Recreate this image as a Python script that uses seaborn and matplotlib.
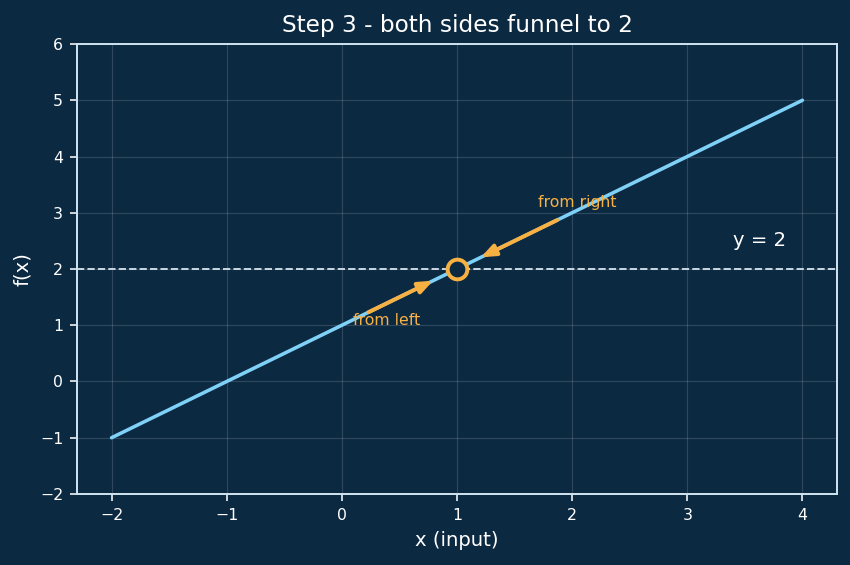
import matplotlib
matplotlib.use("Agg")
import matplotlib.pyplot as plt
import seaborn as sns
import pandas as pd

# data
x_vals = [-2, -1, 0, 1, 2, 3, 4]
y_vals = [-1, 0, 1, 2, 3, 4, 5]
limit_x = 1
limit_y = 2
left_arrow = [(0.2, 1.2), (0.8, 1.8)]
right_arrow = [(1.9, 2.9), (1.2, 2.2)]
x_ticks = [-2, -1, 0, 1, 2, 3, 4]
y_ticks = [-2, -1, 0, 1, 2, 3, 4, 5, 6]

BG = "#0c2942"
BLUE = "#7fd1f7"
ORANGE = "#f7b042"
FG = "#cfe2f0"

sns.set_theme(style="dark")
plt.rcParams["font.family"] = ["DejaVu Sans"]

fig, ax = plt.subplots(figsize=(6, 565 / (850 / 6)), dpi=850 / 6)
fig.patch.set_facecolor(BG)
ax.set_facecolor(BG)
fig.subplots_adjust(left=0.0906, right=0.9847, bottom=0.1257, top=0.9221)

df = pd.DataFrame({"x": x_vals, "y": y_vals})
sns.lineplot(data=df, x="x", y="y", ax=ax, color=BLUE, linewidth=1.8, zorder=3)

ax.axhline(limit_y, color="#c8d6e2", linestyle="--", linewidth=1.0, zorder=2)

for (tail, head) in [left_arrow, right_arrow]:
    ax.annotate("", xy=head, xytext=tail,
                arrowprops=dict(arrowstyle="-|>,head_length=0.5,head_width=0.2",
                                color=ORANGE, lw=2.0,
                                mutation_scale=12, shrinkA=2, shrinkB=0.5),
                zorder=4)

ax.plot([limit_x], [limit_y], marker="o", markersize=10, markerfacecolor=BG,
        markeredgecolor=ORANGE, markeredgewidth=2.0, zorder=5)

ax.text(0.1, 1.0, "from left", color=ORANGE, fontsize=8)
ax.text(1.7, 3.1, "from right", color=ORANGE, fontsize=8)
ax.text(3.4, 2.4, "y = 2", color="white", fontsize=10)

ax.set_xlim(-2.3, 4.3)
ax.set_ylim(-2, 6)
ax.set_xticks(x_ticks)
ax.set_yticks(y_ticks)
ax.grid(True, color="white", alpha=0.15, linewidth=0.6)
ax.tick_params(colors="white", labelsize=8, length=3.5, width=0.8, left=True, bottom=True)
for s in ax.spines.values():
    s.set_color(FG)
    s.set_linewidth(1.0)
    s.set_visible(True)

ax.set_title("Step 3 - both sides funnel to 2", color="white", fontsize=11.8)
ax.set_xlabel("x (input)", color="white", fontsize=10)
ax.set_ylabel("f(x)", color="white", fontsize=10)

fig.savefig("out.png", dpi=850 / 6, facecolor=BG)
